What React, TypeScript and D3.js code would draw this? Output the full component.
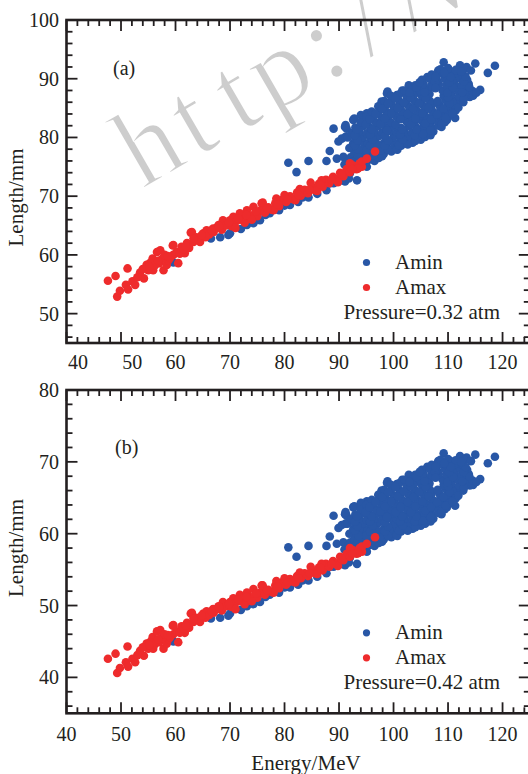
import React from "react";
import * as d3 from "d3";

// ---- data: [energy (MeV), length at 0.32 atm (mm), length at 0.42 atm (mm)] ----
const aminPoints: number[][] = [
  [80.7,75.7,58.1],[82.2,74.1,56.8],[84.4,76.0,58.3],[87.7,76.0,58.3],[88.3,77.7,59.6],[89.0,81.5,62.5],[89.9,79.3,60.8],[90.5,79.8,61.2],[91.1,81.8,62.7],[89.6,76.4,58.6],
  [109.2,92.8,71.2],[112.2,92.3,70.8],[113.4,92.0,70.6],[115.0,92.6,71.0],[118.6,92.2,70.7],[117.3,91.0,69.8],[115.9,88.1,67.6],[113.1,86.9,66.7],[114.0,86.9,66.7],[111.6,90.1,69.1],
  [107.9,90.6,69.5],[109.8,90.9,69.7],[111.3,83.3,63.9],[109.8,83.0,63.7],[108.8,81.8,62.7],[107.3,81.0,62.1],[105.8,80.1,61.4],[103.0,88.6,68.0],[104.6,88.4,67.8],[100.6,87.2,66.9],
  [98.8,87.5,67.1],[97.8,86.1,66.0],[95.1,84.1,64.5],[92.6,83.0,63.7],[91.4,81.5,62.5],[90.8,76.7,58.8],[93.9,77.0,59.1],[98.1,77.9,59.7],[101.2,79.0,60.6],[104.3,80.1,61.4],
  [95.1,75.0,57.5],[92.0,73.9,56.7],[90.8,73.3,56.2],[100.7,77.9,59.7],[98.3,77.6,59.5],[94.6,79.0,60.6],[92.8,83.2,63.8],[91.2,82.1,63.0],[91.2,80.1,61.4],[94.0,83.8,64.3],
  [98.9,87.8,67.3],[101.6,88.0,67.5],[102.8,88.9,68.2],[105.0,88.6,68.0],[106.2,90.3,69.3],[108.2,91.4,70.1],[109.3,91.2,70.0],[110.2,91.5,70.2],[110.8,89.5,68.6],[111.7,88.6,68.0],
  [111.7,86.4,66.3],[110.5,84.7,65.0],[109.3,84.1,64.5],[108.0,83.3,63.9],[106.8,82.4,63.2],[105.6,81.3,62.4],[103.8,80.7,61.9],[102.5,80.1,61.4],[106.8,80.4,61.7],[105.0,79.6,61.1],
  [93.3,72.7,55.8],[91.1,72.5,55.6],[96.5,76.0,58.3],
  [59.6,58.7,45.0],[66.5,62.8,48.2],[68.2,63.0,48.3],[69.7,63.4,48.6],[70.0,63.7,48.9],[72.0,64.4,49.4],[73.1,65.1,49.9],[74.3,65.4,50.2],[75.5,65.9,50.5],[76.5,66.8,51.2],
  [77.3,67.1,51.5],[79.0,67.6,51.8],[80.0,68.4,52.5],[81.0,68.5,52.5],[82.5,69.0,52.9],[83.3,69.8,53.5],[84.4,69.8,53.5],[86.0,70.4,54.0],[87.7,71.0,54.5],[88.4,72.2,55.4],
  [89.0,72.2,55.4],[90.5,72.7,55.8],[91.8,73.0,56.0],
  [91.0,75.4,57.8],[92.4,75.6,58.0],[93.7,75.3,57.8],[94.9,75.7,58.1],[96.2,76.3,58.5],
  [92.1,76.6,58.8],[93.4,76.4,58.6],[94.7,76.7,58.8],[96.0,76.9,59.0],[97.3,76.5,58.7],
  [92.8,77.3,59.3],[94.1,77.6,59.5],[95.5,77.3,59.3],[96.9,77.5,59.4],[98.2,77.2,59.2],[99.6,77.6,59.5],
  [91.9,78.2,60.0],[93.2,78.4,60.1],[94.6,78.1,59.9],[96.0,78.4,60.1],[97.4,78.2,60.0],[98.7,78.5,60.2],[100.0,78.2,60.0],[101.4,78.6,60.3],
  [92.6,79.0,60.6],[94.0,79.3,60.8],[95.3,79.0,60.6],[96.7,79.2,60.7],[98.2,79.0,60.6],[99.5,79.3,60.8],[100.8,79.0,60.6],[102.2,79.3,60.8],[103.5,79.1,60.7],
  [91.6,80.0,61.4],[93.0,79.8,61.2],[94.4,80.1,61.4],[95.8,79.9,61.3],[97.2,80.2,61.5],[98.5,79.9,61.3],[100.0,80.1,61.4],[101.4,79.8,61.2],[102.8,80.2,61.5],[104.3,79.9,61.3],
  [92.3,80.8,62.0],[93.7,81.0,62.1],[95.1,80.7,61.9],[96.5,81.0,62.1],[97.9,80.8,62.0],[99.3,81.1,62.2],[100.6,80.8,62.0],[102.0,81.0,62.1],[103.4,80.8,62.0],[104.8,81.1,62.2],[106.2,80.9,62.0],
  [93.0,81.7,62.7],[94.4,81.9,62.8],[95.8,81.6,62.6],[97.2,81.9,62.8],[98.6,81.7,62.7],[100.0,81.9,62.8],[101.4,81.6,62.6],[102.8,81.9,62.8],[104.2,81.7,62.7],[105.6,82.0,62.9],[107.0,81.7,62.7],[108.3,82.0,62.9],
  [94.0,82.6,63.4],[95.4,82.8,63.5],[96.8,82.5,63.3],[98.2,82.8,63.5],[99.5,82.6,63.4],[102.4,82.7,63.4],[103.8,82.5,63.3],[105.2,82.8,63.5],[106.6,82.6,63.4],[108.0,82.9,63.6],[109.4,82.6,63.4],
  [95.0,83.5,64.0],[96.4,83.7,64.2],[97.8,83.4,64.0],[99.2,83.7,64.2],[100.6,83.5,64.0],[102.0,83.8,64.3],[103.4,83.5,64.0],[104.8,83.7,64.2],[106.2,83.4,64.0],[107.6,83.7,64.2],[109.0,83.5,64.0],[110.3,83.8,64.3],
  [96.0,84.4,64.7],[97.4,84.6,64.9],[98.8,84.3,64.7],[100.2,84.6,64.9],[101.6,84.4,64.7],[103.0,84.7,65.0],[104.4,84.4,64.7],[105.8,84.6,64.9],[107.2,84.4,64.7],[108.6,84.7,65.0],[110.0,84.4,64.7],[111.4,84.6,64.9],
  [97.2,85.3,65.4],[98.6,85.5,65.6],[100.0,85.2,65.3],[101.4,85.5,65.6],[102.8,85.3,65.4],[104.2,85.6,65.7],[105.6,85.3,65.4],[107.0,85.5,65.6],[108.4,85.5,65.6],[109.8,85.3,65.4],[111.2,85.6,65.7],
  [98.3,86.2,66.1],[99.7,86.4,66.3],[101.1,86.1,66.0],[102.5,86.4,66.3],[103.9,86.2,66.1],[105.3,86.5,66.3],[106.7,86.2,66.1],[109.5,86.4,66.3],[110.9,86.1,66.0],[112.3,86.4,66.3],
  [99.5,87.1,66.8],[101.0,87.3,67.0],[102.4,87.0,66.7],[103.8,87.3,67.0],[105.2,87.1,66.8],[106.6,87.4,67.0],[109.2,87.1,66.8],[110.6,87.3,67.0],[112.0,87.0,66.7],[113.4,87.3,67.0],[114.6,87.1,66.8],
  [102.0,88.0,67.5],[103.5,88.2,67.6],[104.9,87.9,67.4],[106.3,88.2,67.6],[109.0,88.0,67.5],[110.4,88.3,67.7],[111.8,88.0,67.5],[113.2,88.2,67.6],[114.5,87.9,67.4],
  [104.0,88.9,68.2],[105.5,89.1,68.3],[106.9,88.8,68.1],[108.3,89.1,68.3],[109.7,88.9,68.2],[111.1,89.2,68.4],[112.5,88.9,68.2],[113.8,89.1,68.3],
  [105.2,89.8,68.9],[106.6,90.0,69.0],[108.0,89.7,68.8],[109.4,90.0,69.0],[110.8,89.8,68.9],[112.2,90.1,69.1],[113.5,89.8,68.9],
  [107.0,90.7,69.6],[108.4,90.9,69.7],[109.8,90.6,69.5],[111.2,90.9,69.7],[112.6,90.7,69.6],
  [108.6,91.6,70.3],[110.0,91.8,70.4],[111.4,91.5,70.2],[113.0,91.7,70.3],[114.2,91.4,70.1],
  [91.7,76.0,58.3],[93.1,76.1,58.4],[95.5,76.2,58.4],[93.5,76.9,59.0],[96.3,77.0,59.1],[97.9,76.8,58.9],
  [93.6,77.9,59.7],[95.0,77.8,59.7],[97.6,77.8,59.7],[99.0,77.9,59.7],[100.6,78.0,59.8],
  [92.9,78.7,60.4],[95.7,78.6,60.3],[97.0,78.8,60.4],[98.4,78.6,60.3],[101.0,78.7,60.4],[102.6,78.8,60.4],
  [93.4,79.5,61.0],[96.2,79.6,61.1],[99.0,79.5,61.0],[101.7,79.6,61.1],[104.0,79.4,60.9],
  [92.9,80.4,61.7],[95.7,80.5,61.7],[98.4,80.3,61.6],[101.2,80.5,61.7],[103.9,80.4,61.7],[105.4,80.6,61.8],
  [93.3,81.3,62.4],[96.0,81.4,62.4],[98.8,81.2,62.3],[101.6,81.4,62.4],[104.2,81.3,62.4],[106.8,81.2,62.3],
  [94.9,82.2,63.0],[97.6,82.3,63.1],[100.4,82.2,63.0],[103.2,82.2,63.0],[105.8,82.4,63.2],[108.8,82.3,63.1],
  [95.6,83.1,63.7],[98.4,83.2,63.8],[101.3,83.1,63.7],[104.0,83.2,63.8],[106.9,83.1,63.7],[109.6,83.3,63.9],
  [96.7,84.0,64.4],[99.6,84.1,64.5],[102.6,84.0,64.4],[105.3,84.1,64.5],[108.0,83.9,64.4],[110.8,84.1,64.5],
  [97.9,84.9,65.1],[100.8,85.0,65.2],[103.6,84.9,65.1],[106.4,85.0,65.2],[109.2,84.9,65.1],[111.9,85.1,65.3],
  [99.0,85.8,65.8],[101.9,85.9,65.9],[104.7,85.8,65.8],[110.3,85.8,65.8],[112.8,86.0,66.0],
  [100.3,86.7,66.5],[103.1,86.8,66.6],[105.9,86.7,66.5],[110.0,86.8,66.6],[112.9,86.6,66.4],
  [102.9,87.6,67.2],[105.7,87.7,67.3],[109.9,87.6,67.2],[112.6,87.7,67.3],[115.2,87.6,67.2],
  [104.2,88.5,67.9],[107.2,88.6,68.0],[110.9,88.5,67.9],[113.9,88.6,68.0],
  [104.8,89.4,68.6],[107.6,89.5,68.6],[110.2,89.4,68.6],[112.9,89.5,68.6],
  [107.7,90.3,69.3],[110.5,90.3,69.3],[113.2,90.4,69.3],[109.3,91.0,69.8],[112.4,91.2,70.0],
  [108.1,86.2,66.1],[107.7,88.4,67.8],
];

const amaxPoints: number[][] = [
  [47.6,55.6,42.6],[49.0,56.4,43.3],[49.3,52.9,40.6],[49.8,53.9,41.3],[51.2,57.7,44.3],[50.9,54.9,42.1],[51.3,54.1,41.5],[52.1,55.5,42.6],[52.6,54.9,42.1],[54.2,56.0,43.0],
  [54.7,58.3,44.7],[55.0,57.4,44.0],[55.8,59.4,45.6],[56.6,60.5,46.4],[55.9,57.4,44.0],[57.0,58.6,44.9],[57.8,57.4,44.0],[58.4,58.3,44.7],[58.7,59.1,45.3],[59.5,61.6,47.2],
  [59.6,60.0,46.0],[60.5,58.6,44.9],[60.2,60.5,46.4],[61.1,61.4,47.1],[61.7,60.3,46.2],[62.1,62.0,47.6],[62.8,63.8,48.9],[63.3,62.2,47.7],[64.2,62.8,48.2],[65.1,63.7,48.9],
  [65.7,64.2,49.2],[66.9,64.5,49.5],[67.9,65.1,49.9],[68.7,65.9,50.5],[70.0,65.9,50.5],[70.6,66.5,51.0],[71.8,67.1,51.5],[73.1,67.6,51.8],[74.3,68.2,52.3],[75.8,68.8,52.8],
  [63.0,63.9,49.0],[59.6,61.7,47.3],[57.2,60.8,46.6],
  [53.5,57.0,43.7],[54.0,57.6,44.2],[55.3,58.6,44.9],[56.2,58.2,44.6],[57.5,59.3,45.5],[58.0,60.0,46.0],[59.0,59.5,45.6],[60.8,60.2,46.2],[61.5,61.0,46.8],[62.5,61.2,46.9],
  [63.8,63.0,48.3],[64.5,62.2,47.7],[65.5,63.0,48.3],[66.2,63.5,48.7],[67.0,63.9,49.0],[67.5,64.6,49.5],[68.5,64.3,49.3],[69.3,65.0,49.9],[70.3,64.9,49.8],[71.2,65.8,50.5],
  [72.0,66.0,50.6],[72.7,65.5,50.2],[73.5,66.6,51.1],[74.5,67.0,51.4],[75.0,66.6,51.1],[75.6,67.6,51.8],[76.4,67.2,51.5],[77.0,68.1,52.2],[77.6,67.7,51.9],[78.3,68.8,52.8],
  [79.0,68.3,52.4],[79.6,69.4,53.2],[80.3,69.0,52.9],[81.0,70.0,53.7],[81.6,69.5,53.3],[82.3,70.6,54.1],[83.0,70.1,53.8],[83.7,71.1,54.5],[84.3,70.5,54.1],[85.0,71.6,54.9],
  [85.6,71.0,54.5],[86.3,72.1,55.3],[87.0,71.6,54.9],[87.6,72.8,55.8],[88.2,72.2,55.4],[88.9,73.3,56.2],[89.5,72.8,55.8],[90.2,74.0,56.8],[90.8,73.4,56.3],[91.4,74.6,57.2],
  [92.0,74.1,56.8],[92.6,75.2,57.7],[93.2,74.6,57.2],[93.8,75.6,58.0],[94.2,75.0,57.5],[92.0,75.6,58.0],[94.2,75.9,58.2],[96.6,77.6,59.5],[78.5,69.6,53.4],[82.8,71.2,54.6],
  [86.8,72.7,55.8],[80.0,70.2,53.8],[76.0,68.9,52.8],[84.8,72.3,55.4],[95.1,76.4,58.6],[93.5,74.7,57.3],[71.0,64.6,49.5],[74.0,66.0,50.6],[78.0,67.6,51.8],[82.0,69.3,53.2],
  [86.0,70.9,54.4],[89.8,72.4,55.5],
  [64.8,63.4,48.6],[66.6,64.2,49.2],[68.0,64.9,49.8],[69.8,65.5,50.2],[71.5,66.2,50.8],[73.0,66.8,51.2],[74.8,67.4,51.7],[76.8,67.9,52.1],[78.7,68.6,52.6],[80.6,69.4,53.2],
  [82.6,70.2,53.8],[84.6,71.1,54.5],[86.6,72.0,55.2],[88.6,72.8,55.8],[90.5,73.7,56.5],[92.4,74.6,57.2],[61.9,61.5,47.2],[63.3,62.8,48.2],[58.6,59.8,45.9],[56.8,59.0,45.3],
  [55.2,58.0,44.5],[53.0,56.2,43.1],
];

const xMajorTicks = [40, 50, 60, 70, 80, 90, 100, 110, 120];
const yMajorTicksA = [50, 60, 70, 80, 90, 100];
const yMajorTicksB = [40, 50, 60, 70, 80];
const seriesNames = ["Amin", "Amax"];
const pressureLabels = ["Pressure=0.32 atm", "Pressure=0.42 atm"];
const panelLabels = ["(a)", "(b)"];
const xTitle = "Energy/MeV";
const yTitle = "Length/mm";
const watermark = "http://w";

const COLORS = ["#2857a6", "#ee2b2c"];
const FONT = "'Liberation Serif', 'Times New Roman', serif";
const INK = "#231f20";

const W = 528;
const H = 774;
const X_LEFT = 66.5;
const X_RIGHT = 529.8;
const R = 4.3;

const panels = [
  {
    yDomain: [45, 100], top: 20, bottom: 343, yMajor: yMajorTicksA, minorStart: 46,
    label: panelLabels[0], labelPos: [113, 74.7], pressure: pressureLabels[0], idx: 1,
    yTitleY: 197.5, xLabelShift: { 40: 11.5, 50: 11.3 } as Record<number, number>, xLabelDy: 25.5,
  },
  {
    yDomain: [35, 80], top: 390, bottom: 713.3, yMajor: yMajorTicksB, minorStart: 36,
    label: panelLabels[1], labelPos: [115, 453.5], pressure: pressureLabels[1], idx: 2,
    yTitleY: 548, xLabelShift: {} as Record<number, number>, xLabelDy: 28,
  },
];

const x = d3.scaleLinear().domain([40, 125]).range([X_LEFT, X_RIGHT]);

function Panel({ p }: { p: (typeof panels)[number] }) {
  const y = d3.scaleLinear().domain(p.yDomain).range([p.bottom, p.top]);
  const xMinor = d3.range(40, 125, 2).filter((v) => v % 10 !== 0);
  const yMinor = d3.range(p.minorStart, p.yDomain[1], 2).filter((v) => v % 10 !== 0);
  const MAJ = 11;
  const MIN = 6;
  const series = [aminPoints, amaxPoints];
  return (
    <g>
      {series.map((pts, si) => (
        <g key={si} fill={COLORS[si]}>
          {pts.map((d, i) => (
            <circle key={i} cx={x(d[0])} cy={y(d[p.idx])} r={R} />
          ))}
        </g>
      ))}
      <g stroke={INK} strokeWidth={1.8}>
        {xMajorTicks.map((v) => (
          <g key={"xm" + v}>
            <line x1={x(v)} x2={x(v)} y1={p.bottom} y2={p.bottom - MAJ} />
            <line x1={x(v)} x2={x(v)} y1={p.top} y2={p.top + MAJ} />
          </g>
        ))}
        {xMinor.map((v) => (
          <g key={"xn" + v}>
            <line x1={x(v)} x2={x(v)} y1={p.bottom} y2={p.bottom - MIN} />
            <line x1={x(v)} x2={x(v)} y1={p.top} y2={p.top + MIN} />
          </g>
        ))}
        {p.yMajor.map((v) => (
          <g key={"ym" + v}>
            <line x1={X_LEFT} x2={X_LEFT + MAJ} y1={y(v)} y2={y(v)} />
            <line x1={X_RIGHT} x2={X_RIGHT - MAJ} y1={y(v)} y2={y(v)} />
          </g>
        ))}
        {yMinor.map((v) => (
          <g key={"yn" + v}>
            <line x1={X_LEFT} x2={X_LEFT + MIN} y1={y(v)} y2={y(v)} />
            <line x1={X_RIGHT} x2={X_RIGHT - MIN} y1={y(v)} y2={y(v)} />
          </g>
        ))}
      </g>
      <rect x={X_LEFT} y={p.top} width={X_RIGHT - X_LEFT} height={p.bottom - p.top}
        fill="none" stroke={INK} strokeWidth={2.6} />
      <g fontFamily={FONT} fontSize={20} fill={INK}>
        {xMajorTicks.map((v) => (
          <text key={"xl" + v} x={x(v) + (p.xLabelShift[v] || 0)} y={p.bottom + p.xLabelDy} textAnchor="middle">
            {v}
          </text>
        ))}
        {p.yMajor.map((v) => (
          <text key={"yl" + v} x={59} y={y(v)} dy="0.35em" textAnchor="end">
            {v}
          </text>
        ))}
      </g>
      <text x={p.labelPos[0]} y={p.labelPos[1]} fontFamily={FONT} fontSize={20} fill={INK}>
        {p.label}
      </text>
      <text transform={`translate(22.5,${p.yTitleY}) rotate(-90)`} textAnchor="middle"
        fontFamily={FONT} fontSize={21} fill={INK}>
        {yTitle}
      </text>
      <g fontFamily={FONT} fontSize={21} fill={INK}>
        {seriesNames.map((s, i) => (
          <g key={s}>
            <circle cx={366.5} cy={p.bottom - 80.5 + i * 25} r={3.6} fill={COLORS[i]} />
            <text x={395} y={p.bottom - 74.5 + i * 25}>{s}</text>
          </g>
        ))}
        <text x={343.5} y={p.bottom - 24}>{p.pressure}</text>
      </g>
    </g>
  );
}

export default function App() {
  const chars = watermark.split("");
  return (
    <svg width={W} height={H} style={{ position: "absolute", left: 0, top: 0, background: "#fff" }}>
      <rect width={W} height={H} fill="#fff" />
      <g transform="translate(144.6,188) rotate(-30)" fontFamily={FONT} fontSize={112}
        fill="#cdcdcd" stroke="#fff" strokeWidth={2}>
        {chars.map((c, i) => (
          <text key={i} x={i * 50 + 25} y={0} textAnchor="middle">{c}</text>
        ))}
      </g>
      {panels.map((p, i) => (
        <Panel key={i} p={p} />
      ))}
      <text x={306} y={770} textAnchor="middle" fontFamily={FONT} fontSize={21} fill={INK}>
        {xTitle}
      </text>
    </svg>
  );
}
